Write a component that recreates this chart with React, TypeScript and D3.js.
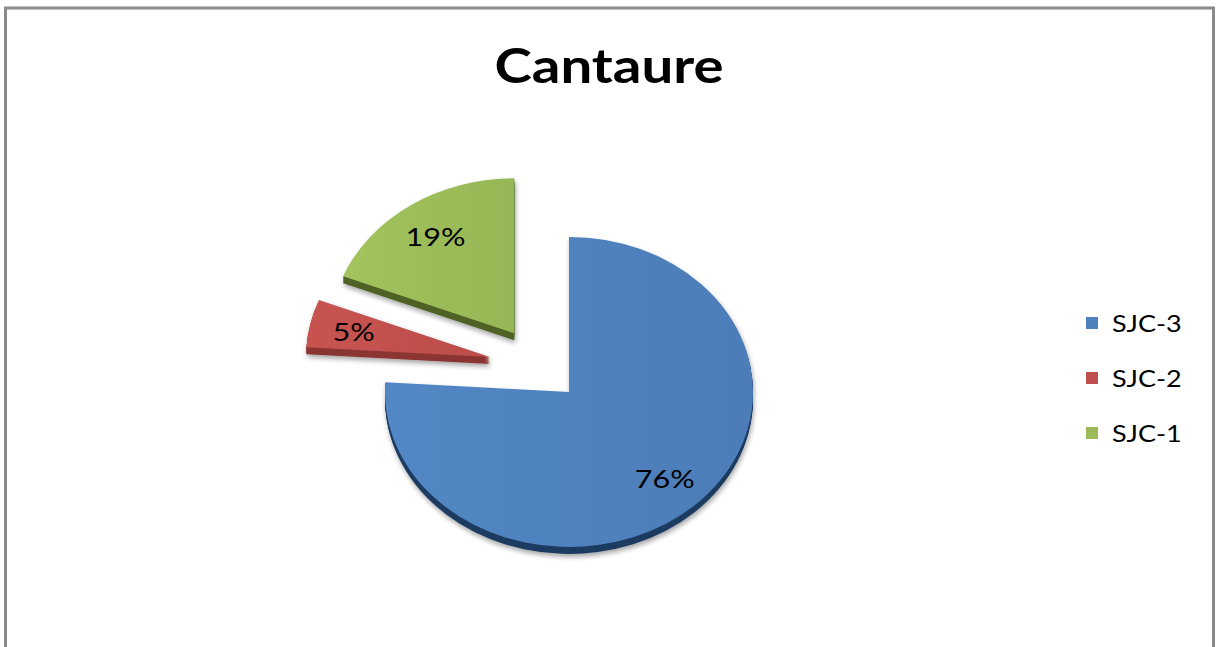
import React from "react";
import * as d3 from "d3";

const title = "Cantaure";
const categories = ["SJC-3", "SJC-2", "SJC-1"];
const values = [76, 5, 19];
const explodeFrac = [0, 0.44, 0.53];
const colors = ["#4F81BD", "#C0504D", "#9BBB59"];
const sideColors = ["#1F3A60", "#8A3532", "#4F6228"];

const W = 1216;
const H = 647;
const cx = 569;
const cy = 392;
const rx = 184;
const ry = 155;
const depth = 7;
const kTilt = 0.28;
const lift = 0.37;
const labelFrac = 0.76;
const stretch = 1.2;
const FONT = "Lato, 'Open Sans', sans-serif";

function pt(a: number, ox: number, oy: number) {
  return [cx + ox + rx * Math.sin(a), cy + oy - ry * Math.cos(a)];
}

function slicePath(a0: number, a1: number, ox: number, oy: number) {
  const p0 = pt(a0, ox, oy);
  const p1 = pt(a1, ox, oy);
  const large = a1 - a0 > Math.PI ? 1 : 0;
  return `M${cx + ox},${cy + oy}L${p0[0]},${p0[1]}A${rx},${ry} 0 ${large} 1 ${p1[0]},${p1[1]}Z`;
}

function SText(props: { x: number; y: number; size: number; bold?: boolean; anchor?: string; baseline?: string; children: React.ReactNode }) {
  const { x, y, size, bold, anchor, baseline, children } = props;
  return (
    <text
      transform={`translate(${x},${y}) scale(${stretch},1)`}
      textAnchor={anchor || "start"}
      dominantBaseline={baseline || "auto"}
      fontFamily={FONT}
      fontWeight={bold ? "bold" : "normal"}
      fontSize={size}
      fill="#000"
    >
      {children}
    </text>
  );
}

export default function App() {
  const pie = d3.pie<number>().sort(null).value((d) => d).startAngle(0).endAngle(2 * Math.PI);
  const arcs = pie(values);
  const total = d3.sum(values);

  const slices = arcs.map((a, i) => {
    const mid = (a.startAngle + a.endAngle) / 2;
    const d = explodeFrac[i] * rx;
    const ox = d * Math.sin(mid);
    const oy = -d * Math.cos(mid) * kTilt - lift * d;
    const lp = [
      cx + ox + rx * labelFrac * Math.sin(mid),
      cy + oy - ry * labelFrac * Math.cos(mid),
    ];
    return { a, i, ox, oy, lp, mid };
  });

  const legendY = d3.scalePoint<string>().domain(categories).range([323, 433]);

  return (
    <svg width={W} height={H} style={{ position: "absolute", left: 0, top: 0, background: "#fff" }}>
      <defs>
        <filter id="shadow" x="-20%" y="-20%" width="140%" height="140%">
          <feGaussianBlur in="SourceAlpha" stdDeviation="2.5" />
          <feOffset dx="1" dy="3" result="b" />
          <feComponentTransfer>
            <feFuncA type="linear" slope="0.35" />
          </feComponentTransfer>
          <feMerge>
            <feMergeNode />
            <feMergeNode in="SourceGraphic" />
          </feMerge>
        </filter>
        {colors.map((c, i) => (
          <linearGradient key={i} id={`g${i}`} x1="0" y1="0" x2="1" y2="0">
            <stop offset="0" stopColor={d3.color(c)!.brighter(0.12).toString()} />
            <stop offset="1" stopColor={d3.color(c)!.darker(0.08).toString()} />
          </linearGradient>
        ))}
      </defs>
      <rect x={5.5} y={8} width={1208} height={H + 20} fill="#fff" stroke="#8a8a8a" strokeWidth={3} />
      <SText x={609} y={83} size={47} bold anchor="middle">
        {title}
      </SText>
      {slices.map(({ a, i, ox, oy }) => (
        <g key={i} filter="url(#shadow)">
          {d3.range(1, depth + 1).map((k) => (
            <path key={k} d={slicePath(a.startAngle, a.endAngle, ox, oy + k)} fill={sideColors[i]} />
          ))}
          <path d={slicePath(a.startAngle, a.endAngle, ox, oy)} fill={`url(#g${i})`} />
        </g>
      ))}
      {slices.map(({ i, lp }) => (
        <SText key={i} x={lp[0]} y={lp[1]} size={25.5} anchor="middle" baseline="central">
          {Math.round((values[i] / total) * 100) + "%"}
        </SText>
      ))}
      {categories.map((c, i) => (
        <g key={c}>
          <rect x={1086} y={legendY(c)! - 6} width={12} height={12} fill={colors[i]} />
          <SText x={1112} y={legendY(c)!} size={22.5} baseline="central">
            {c}
          </SText>
        </g>
      ))}
    </svg>
  );
}
